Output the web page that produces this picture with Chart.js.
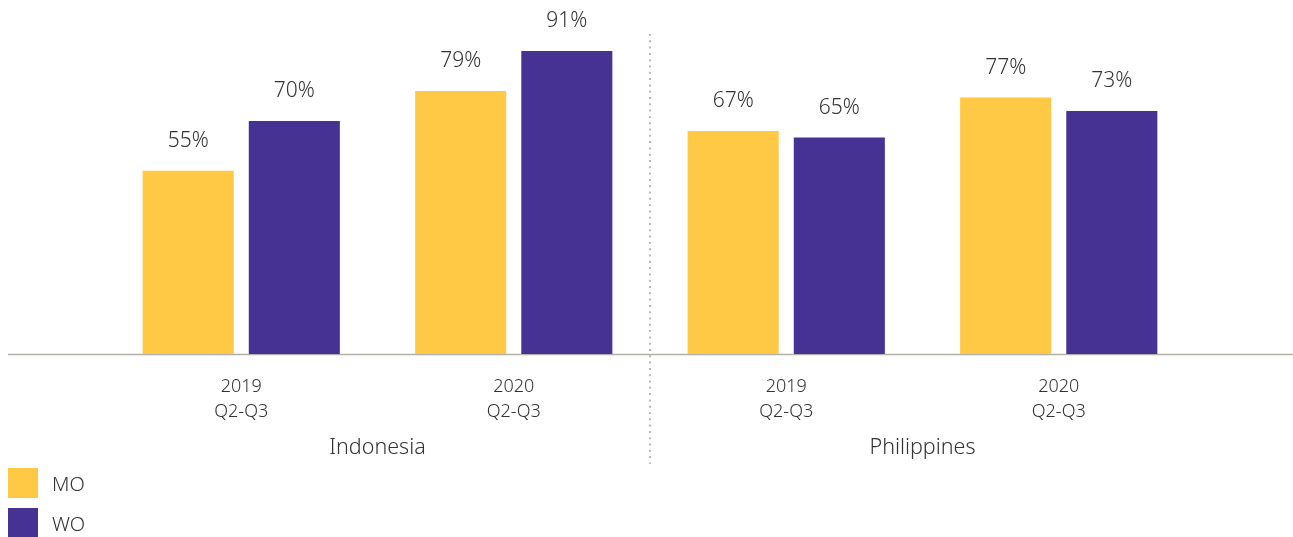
<!DOCTYPE html>
<html>
<head>
<meta charset="utf-8">
<script src="https://cdn.jsdelivr.net/npm/chart.js@4/dist/chart.umd.min.js"></script>
<style>
    html, body { margin: 0; padding: 0; background: #fff; }
    #wrap { position: relative; width: 1293px; height: 537px; }
    #legend { position: absolute; left: 8px; top: 468px; font-family: "Noto Sans", sans-serif; font-weight: 300; }
    .legend-item { display: flex; align-items: center; height: 30px; margin-bottom: 10px; font-size: 20px; color: #333; }
    .legend-box { width: 30px; height: 30px; margin-right: 14px; }
</style>
</head>
<body>
<div id="wrap">
    <canvas id="chart" width="1293" height="537"></canvas>
    <div id="legend"></div>
</div>
<script>
// chart data
const periods = [['2019', 'Q2-Q3'], ['2020', 'Q2-Q3'], ['2019', 'Q2-Q3'], ['2020', 'Q2-Q3']];
const countries = ['Indonesia', 'Philippines'];
const moValues = [55, 79, 67, 77];
const woValues = [70, 91, 65, 73];

const FONT = '"Noto Sans", sans-serif';
const TEXT = '#333333';

const overlayPlugin = {
    id: 'overlay',
    beforeDatasetsDraw(chart) {
        const { ctx } = chart;
        const x = chart.scales.x;
        // base line across the whole width
        ctx.save();
        ctx.strokeStyle = '#b3afab';
        ctx.lineWidth = 1.5;
        ctx.beginPath();
        ctx.moveTo(8, chart.chartArea.bottom + 0.5);
        ctx.lineTo(chart.width, chart.chartArea.bottom + 0.5);
        ctx.stroke();

        // dotted divider between the two countries
        const mid = (x.getPixelForValue(1) + x.getPixelForValue(2)) / 2;
        ctx.strokeStyle = '#b8b8b8';
        ctx.lineWidth = 2;
        ctx.setLineDash([2, 4.3]);
        ctx.beginPath();
        ctx.moveTo(Math.round(mid), 34);
        ctx.lineTo(Math.round(mid), 464);
        ctx.stroke();
        ctx.restore();
    },
    afterDraw(chart) {
        const { ctx } = chart;
        const x = chart.scales.x;
        ctx.save();
        ctx.fillStyle = TEXT;
        ctx.textAlign = 'center';
        ctx.textBaseline = 'middle';

        // value labels above the bars
        ctx.font = '300 21px ' + FONT;
        chart.data.datasets.forEach((ds, i) => {
            chart.getDatasetMeta(i).data.forEach((bar, j) => {
                ctx.fillText(ds.data[j] + '%', bar.x, bar.y - 30);
            });
        });

        // country labels under each pair of periods
        ctx.font = '300 21.5px ' + FONT;
        countries.forEach((c, i) => {
            const cx = (x.getPixelForValue(i * 2) + x.getPixelForValue(i * 2 + 1)) / 2;
            ctx.fillText(c, cx, 448);
        });
        ctx.restore();
    }
};

const chart = new Chart(document.getElementById('chart'), {
    type: 'bar',
    data: {
        labels: periods,
        datasets: [
            { label: 'MO', data: moValues, backgroundColor: '#FFC845' },
            { label: 'WO', data: woValues, backgroundColor: '#463293' }
        ]
    },
    options: {
        responsive: false,
        animation: false,
        categoryPercentage: 0.779,
        barPercentage: 0.858,
        layout: { padding: { top: 21, left: 105, right: 98, bottom: 0 } },
        plugins: {
            legend: { display: false },
            tooltip: { enabled: false }
        },
        scales: {
            y: { display: false, min: 0, max: 100 },
            x: {
                grid: { display: false, drawTicks: false },
                border: { display: false },
                ticks: {
                    color: TEXT,
                    padding: 20,
                    font: { family: FONT, size: 18, weight: 300, lineHeight: 1.4 }
                },
                afterFit(scale) { scale.height = 183; }
            }
        }
    },
    plugins: [overlayPlugin]
});

// html legend, one row per dataset
const legendEl = document.getElementById('legend');
chart.data.datasets.forEach(ds => {
    const item = document.createElement('div');
    item.className = 'legend-item';
    item.innerHTML = `<span class="legend-box" style="background:${ds.backgroundColor}"></span>${ds.label}`;
    legendEl.appendChild(item);
});
</script>
</body>
</html>
